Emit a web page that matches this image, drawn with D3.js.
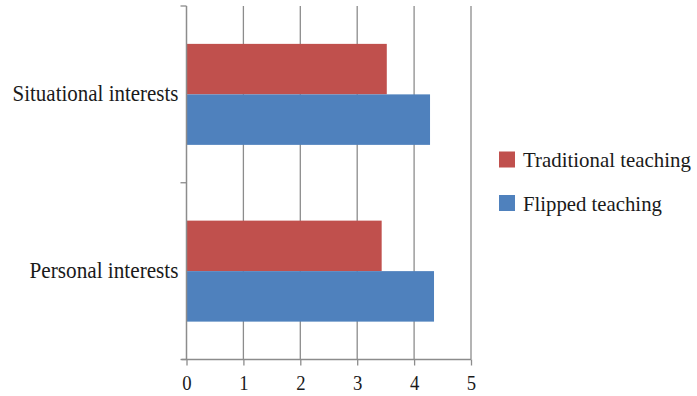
<!DOCTYPE html>
<html>
<head>
<meta charset="utf-8">
<script src="https://cdn.jsdelivr.net/npm/d3@7"></script>
<style>
  html, body { margin: 0; padding: 0; background: #fff; }
  svg text { font-family: "Liberation Serif", "DejaVu Serif", serif; fill: #1a1a1a; }
</style>
</head>
<body>
<svg id="chart" width="697" height="396"></svg>
<script>
// Mean interest scores by teaching mode
const categories = ["Situational interests", "Personal interests"];
const seriesNames = ["Traditional teaching", "Flipped teaching"];
const traditional = [3.52, 3.43];
const flipped = [4.28, 4.35];
const xTicks = [0, 1, 2, 3, 4, 5];
const colors = ["#C0504D", "#4F81BD"];

const values = [traditional, flipped];
const svg = d3.select("#chart");
const margin = { left: 186.5, right: 697 - 471, top: 6, bottom: 396 - 359.5 };

const x = d3.scaleLinear().domain([0, 5]).range([margin.left, 697 - margin.right]);
const y = d3.scaleBand().domain(categories).range([margin.top, 396 - margin.bottom]).paddingInner(0).paddingOuter(0);
// bar group occupies bandwidth / 1.75 (75% gap), centred in the band
const groupH = y.bandwidth() / 1.75;
const yInner = d3.scaleBand().domain(d3.range(seriesNames.length)).range([0, groupH]);

const gridColor = "#8c8c8c";

// narrow a text horizontally so its width equals `w` (condensed face look)
function condense(sel, w, anchorX, baseY, alignEnd) {
  sel.each(function () {
    const t = d3.select(this);
    const natural = this.getComputedTextLength();
    const sx = Math.min(1, w / natural);
    t.attr("x", 0).attr("y", 0)
     .attr("transform", `translate(${anchorX},${baseY}) scale(${sx},1)`);
  });
}

// vertical gridlines
svg.append("g").selectAll("line").data(xTicks.slice(1)).join("line")
  .attr("x1", d => x(d)).attr("x2", d => x(d))
  .attr("y1", margin.top).attr("y2", 396 - margin.bottom)
  .attr("stroke", gridColor).attr("stroke-width", 1.3);

// bars
categories.forEach((cat, ci) => {
  const g = svg.append("g")
    .attr("transform", `translate(0,${y(cat) + (y.bandwidth() - groupH) / 2})`);
  g.selectAll("rect").data(seriesNames).join("rect")
    .attr("x", x(0))
    .attr("y", (d, si) => yInner(si))
    .attr("width", (d, si) => x(values[si][ci]) - x(0))
    .attr("height", yInner.bandwidth())
    .attr("fill", (d, si) => colors[si]);
});

// x axis
const xAxis = svg.append("g")
  .attr("transform", `translate(0,${396 - margin.bottom})`)
  .call(d3.axisBottom(x).tickValues(xTicks).tickSize(6).tickPadding(5).tickFormat(d3.format("d")));
xAxis.select(".domain").attr("stroke", gridColor).attr("stroke-width", 1.3)
  .attr("d", `M${x(0) - 5},0H${x(5)}`);
xAxis.selectAll(".tick line").attr("stroke", gridColor).attr("stroke-width", 1.3);
xAxis.selectAll(".tick text").attr("font-size", 22).attr("fill", "#1a1a1a")
  .attr("y", 0).attr("dy", 0)
  .attr("transform", "translate(0,30.5) scale(0.85,1)");

// y axis (category boundaries as ticks)
const yAxisG = svg.append("g");
yAxisG.append("line")
  .attr("x1", x(0)).attr("x2", x(0))
  .attr("y1", margin.top).attr("y2", 396 - margin.bottom)
  .attr("stroke", gridColor).attr("stroke-width", 1.5);
const bounds = [y(categories[0]), y(categories[1]), y(categories[1]) + y.bandwidth()];
yAxisG.selectAll("line.tk").data(bounds).join("line").attr("class", "tk")
  .attr("x1", x(0) - 6).attr("x2", x(0))
  .attr("y1", d => d).attr("y2", d => d)
  .attr("stroke", gridColor).attr("stroke-width", 1.3);

// category labels
const labelWidths = [166, 149];
svg.append("g").selectAll("text").data(categories).join("text")
  .attr("text-anchor", "end")
  .attr("font-size", 23)
  .text(d => d)
  .each(function (d, i) {
    condense(d3.select(this), labelWidths[i], x(0) - 8, y(d) + y.bandwidth() / 2 + 6.5);
  });

// legend
const legendY = [151.5, 195];
const legendWidths = [168, 139];
const legend = svg.append("g").selectAll("g").data(seriesNames).join("g")
  .attr("transform", (d, i) => `translate(499,${legendY[i]})`);
legend.append("rect").attr("width", 16).attr("height", 16)
  .attr("fill", (d, i) => colors[i]);
legend.append("text")
  .attr("font-size", 22)
  .text(d => d)
  .each(function (d, i) {
    condense(d3.select(this), legendWidths[i], 24, 15.5);
  });
</script>
</body>
</html>
